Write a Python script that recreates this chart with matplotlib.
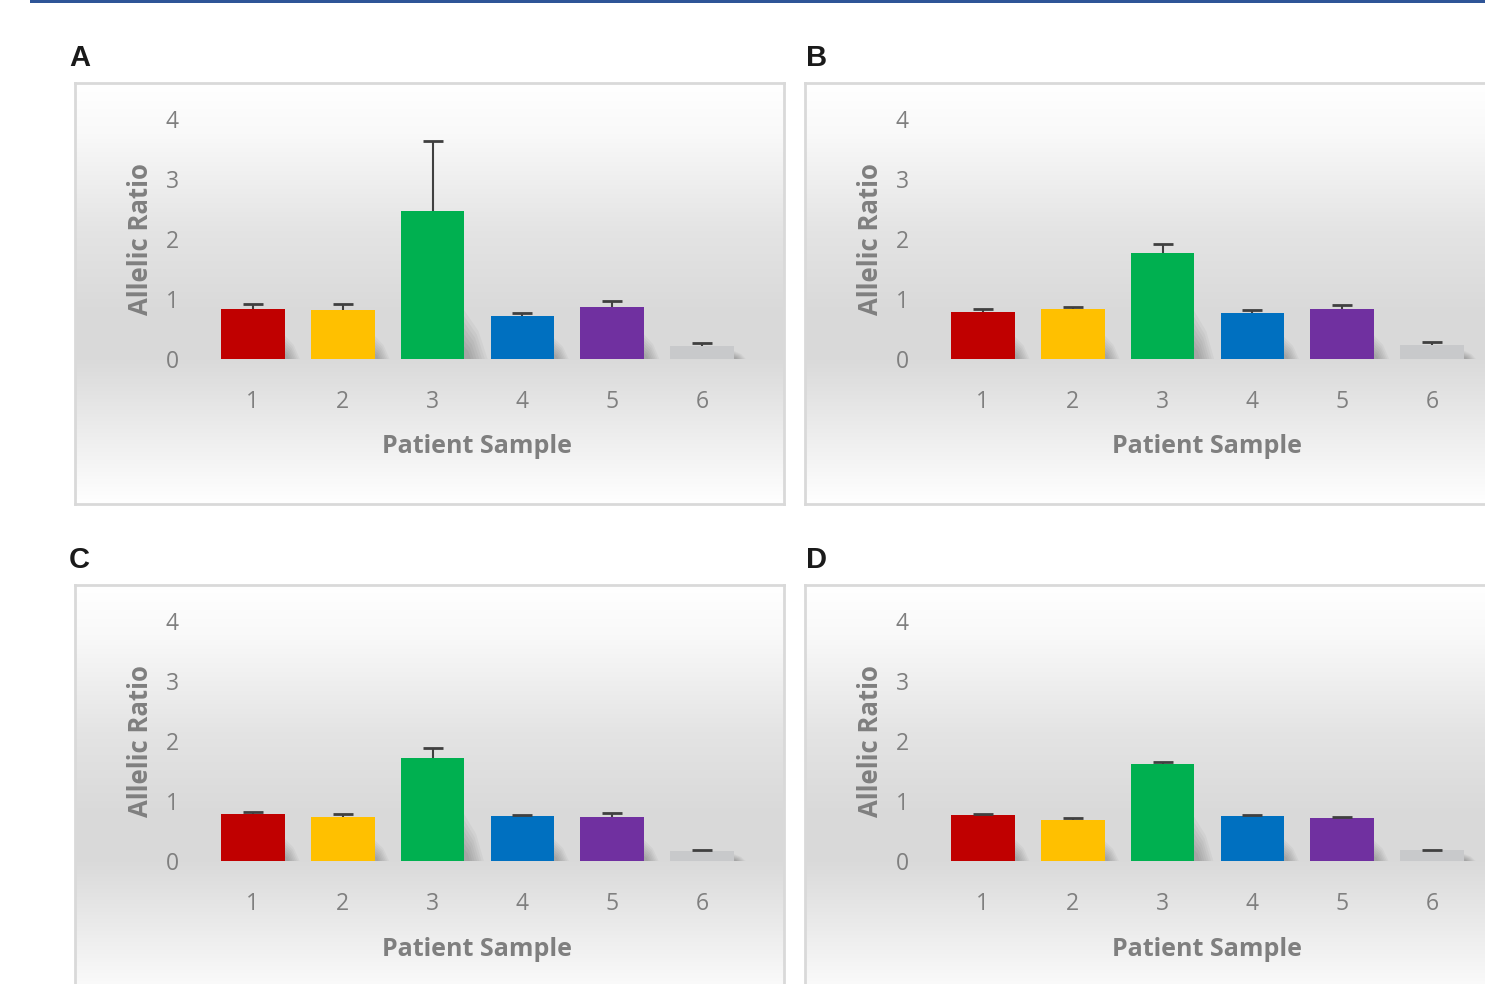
import numpy as np
import matplotlib
matplotlib.use("Agg")
import matplotlib.pyplot as plt
from matplotlib.patches import Rectangle, Polygon
from matplotlib.colors import LinearSegmentedColormap

# ---------------- data ----------------
samples = ["1", "2", "3", "4", "5", "6"]
colors = ["#c00000", "#ffc000", "#00b050", "#0070c0", "#7030a0", "#c8c9cb"]

vals_A = [0.83, 0.82, 2.46, 0.71, 0.87, 0.22]
err_A = [0.08, 0.09, 1.18, 0.06, 0.09, 0.04]
vals_B = [0.79, 0.83, 1.76, 0.76, 0.83, 0.23]
err_B = [0.05, 0.04, 0.16, 0.05, 0.07, 0.05]
vals_C = [0.78, 0.73, 1.71, 0.75, 0.73, 0.17]
err_C = [0.04, 0.05, 0.17, 0.02, 0.07, 0.01]
vals_D = [0.76, 0.69, 1.61, 0.745, 0.71, 0.18]
err_D = [0.02, 0.02, 0.035, 0.025, 0.03, 0.005]

panel_letters = ["A", "B", "C", "D"]
yticks = [0, 1, 2, 3, 4]
ylabel = "Allelic Ratio"
xlabel = "Patient Sample"

# ---------------- layout ----------------
W, H = 1485, 984
fig = plt.figure(figsize=(W / 100, H / 100), dpi=100)
fig.patch.set_facecolor("white")

def fx(px):
    return px / W

def fy(py):
    return 1 - py / H

# blue rule at the top
fig.add_artist(Rectangle((fx(30), fy(2.5)), fx(1485 - 30), 2.5 / H,
                         transform=fig.transFigure, facecolor="#2f5597",
                         edgecolor="none"))

grad_cmap = LinearSegmentedColormap.from_list(
    "bg", [(0.0, "#ffffff"), (0.12, "#f9f9f9"), (0.35, "#e4e4e4"),
           (0.55, "#d9d9d9"), (0.66, "#dadada"), (0.85, "#efefef"),
           (1.0, "#ffffff")])

panels = [
    (panel_letters[0], vals_A, err_A, 0, 0),
    (panel_letters[1], vals_B, err_B, 730, 0),
    (panel_letters[2], vals_C, err_C, 0, 502),
    (panel_letters[3], vals_D, err_D, 730, 502),
]

x = np.arange(len(samples))
bar_w = 0.71
font = "Open Sans"
grey = "#7f7f7f"

for letter, vals, errs, dx, dy in panels:
    # background box with gradient
    bx0, by0, bw, bh = 75 + dx, 83 + dy, 709, 421
    bg = fig.add_axes([fx(bx0), fy(by0 + bh), fx(bw), bh / H])
    grad = np.linspace(0, 1, 256).reshape(-1, 1)
    bg.imshow(grad, aspect="auto", cmap=grad_cmap, extent=[0, 1, 0, 1],
              origin="upper", vmin=0, vmax=1)
    bg.set_xlim(0, 1)
    bg.set_ylim(0, 1)
    bg.set_xticks([])
    bg.set_yticks([])
    for s in bg.spines.values():
        s.set_color("#d9d9d9")
        s.set_linewidth(2.0)

    # panel letter
    lx = 69 + (dx + 7 if dx else 0)
    fig.text(fx(lx), fy(58 + dy), letter, fontsize=21, fontweight="bold",
             family="Liberation Sans", color="#1a1a1a", va="center", ha="left")

    # plot axes
    ax = fig.add_axes([fx(208 + dx), fy(359 + dy), fx(539), 240 / H])
    ax.patch.set_alpha(0)
    ax.set_xlim(-0.5, len(samples) - 0.5)
    ax.set_ylim(0, 4)

    # soft shadows to the lower right of each bar
    for xi, v in zip(x, vals):
        xr = xi + bar_w / 2
        hs = min(v * 0.45, 0.8) + 0.05
        ds = 0.12 + 0.14 * min(v, 2.5) / 2.5
        for k in range(7):
            f = 1 - k * 0.12
            poly = Polygon([(xr - 0.02, 0.0), (xr - 0.02, hs * f),
                            (xr + ds * f * 0.6, hs * f * 0.55),
                            (xr + ds * f, 0.0)],
                           closed=True, facecolor="#000000", alpha=0.035,
                           edgecolor="none", zorder=1)
            ax.add_patch(poly)

    ax.bar(x, vals, width=bar_w, color=colors, zorder=2)
    _, caps, _ = ax.errorbar(x, vals, yerr=[np.zeros(len(vals)), errs],
                             fmt="none", ecolor="#404040", elinewidth=1.5,
                             capsize=7, capthick=2, zorder=3)
    if len(caps) == 2:
        caps[0].set_visible(False)

    ax.set_xticks(x)
    ax.set_xticklabels(samples)
    ax.set_yticks(yticks)
    ax.set_yticklabels([str(t) for t in yticks])
    ax.tick_params(axis="both", length=0, labelsize=16.5, labelcolor=grey)
    ax.tick_params(axis="x", pad=22)
    ax.tick_params(axis="y", pad=21)
    for lab in ax.get_xticklabels() + ax.get_yticklabels():
        lab.set_family(font)
    for s in ax.spines.values():
        s.set_visible(False)

    ax.set_ylabel(ylabel, fontsize=18.5, fontweight="bold", color=grey,
                  family=font)
    ax.yaxis.set_label_coords((140 - 208) / 539, 0.5)
    ax.set_xlabel(xlabel, fontsize=18, fontweight="bold", color=grey,
                  family=font)
    ax.xaxis.set_label_coords(0.499, -88 / 240)
    ax.xaxis.label.set_va("center")
    ax.yaxis.label.set_va("center")

fig.savefig("out.png", dpi=100)
